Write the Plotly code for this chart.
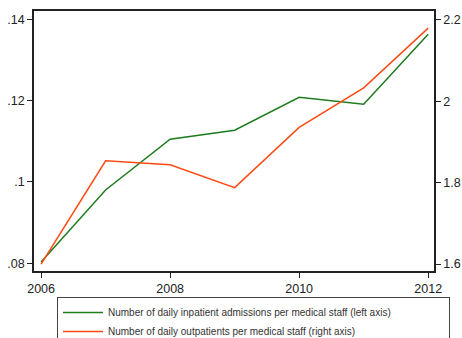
import plotly.graph_objects as go

years = [2006, 2007, 2008, 2009, 2010, 2011, 2012]
inpatient = [0.0803, 0.0980, 0.1105, 0.1127, 0.1208, 0.1191, 0.1363]
outpatient = [1.600, 1.854, 1.844, 1.788, 1.936, 2.033, 2.180]

left_ticks = [0.08, 0.10, 0.12, 0.14]
left_labels = [".08", ".1", ".12", ".14"]
right_ticks = [1.6, 1.8, 2.0, 2.2]
right_labels = ["1.6", "1.8", "2", "2.2"]
x_ticks = [2006, 2008, 2010, 2012]

GREEN = "#1e7b1e"
ORANGE = "#ff4a14"
FONT = "Liberation Sans, Arial, sans-serif"

fig = go.Figure()
fig.add_trace(go.Scatter(
    x=years, y=inpatient, mode="lines",
    line=dict(color=GREEN, width=1.5),
    name="Number of daily inpatient admissions per medical staff (left axis)",
    yaxis="y"))
fig.add_trace(go.Scatter(
    x=years, y=outpatient, mode="lines",
    line=dict(color=ORANGE, width=1.5),
    name="Number of daily outpatients per medical staff (right axis)",
    yaxis="y2"))

fig.update_layout(
    width=462, height=338,
    margin=dict(l=34, r=28, t=11, b=67, autoexpand=False),
    paper_bgcolor="white", plot_bgcolor="white",
    font=dict(family=FONT, size=12.5, color="#222"),
    showlegend=True,
    legend=dict(
        orientation="h", entrywidth=336, entrywidthmode="pixels",
        x=(57 - 34) / 400, y=-(297 - 271) / 260, xanchor="left", yanchor="top",
        bgcolor="white", bordercolor="#444", borderwidth=1,
        font=dict(family=FONT, size=10, color="#333"),
        tracegroupgap=0, itemwidth=40,
    ),
    xaxis=dict(
        range=[2005.89, 2012.09], tickvals=x_ticks,
        ticktext=[str(v) for v in x_ticks],
        showgrid=False, zeroline=False,
        showline=True, linecolor="#222", linewidth=1.5, mirror=True,
        ticks="outside", ticklen=5, tickcolor="#222",
    ),
    yaxis=dict(
        range=[0.0781, 0.1420], tickvals=left_ticks, ticktext=left_labels,
        showgrid=False, zeroline=False,
        showline=True, linecolor="#222", linewidth=1.5,
        ticks="outside", ticklen=5, tickcolor="#222",
    ),
    yaxis2=dict(
        range=[1.583, 2.222], tickvals=right_ticks, ticktext=right_labels,
        overlaying="y", side="right",
        showgrid=False, zeroline=False,
        showline=True, linecolor="#222", linewidth=1.5,
        ticks="outside", ticklen=5, tickcolor="#222",
    ),
)

fig.write_html(
    "out.html",
    config={"displayModeBar": False},
    post_script="document.body.style.margin='0';document.body.style.overflow='hidden';",
)
